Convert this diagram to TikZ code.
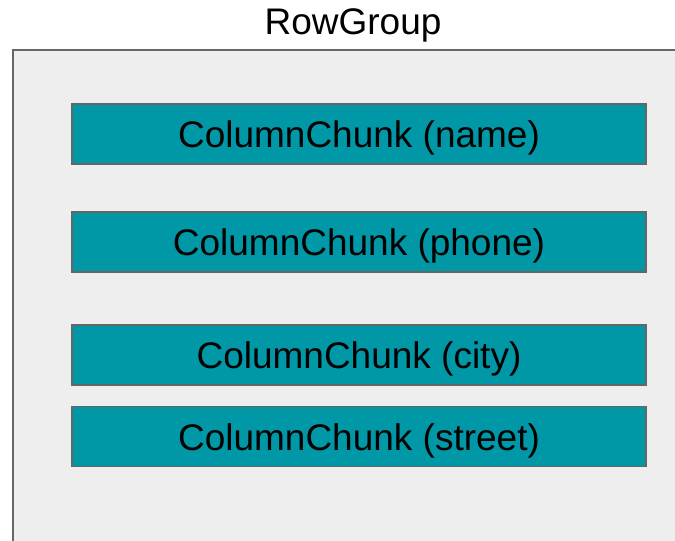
\documentclass[tikz,border=0pt]{standalone}
\usepackage{fontspec}
\setmainfont{Liberation Sans}
\definecolor{groupfill}{HTML}{EEEEEE}
\definecolor{edgegray}{HTML}{666666}
\definecolor{chunkteal}{HTML}{0097A7}
\begin{document}
\begin{tikzpicture}[x=1pt,y=-1pt,
  chunk/.style={draw=edgegray,line width=1.5pt,fill=chunkteal,minimum width=574pt,minimum height=60pt,inner sep=0pt,text height=27pt,text depth=0pt,font=\fontsize{37}{42}\selectfont,text=black},
  grouptitle/.style={font=\fontsize{37}{42}\selectfont,text=black,anchor=base,inner sep=0pt}]
\useasboundingbox (0,0) rectangle (675,541);
\clip (0,0) rectangle (675,541);
\fill[white] (0,0) rectangle (675,541);
\node[draw=edgegray,line width=1.5pt,fill=groupfill,minimum width=700pt,minimum height=560pt,anchor=north west,inner sep=0pt] (group) at (12,49) {};
\node[grouptitle] (title) at (353,34) {RowGroup};
\node[chunk] (name) at (359,134) {ColumnChunk (name)};
\node[chunk] (phone) at (359,242) {ColumnChunk (phone)};
\node[chunk] (city) at (359,355) {ColumnChunk (city)};
\node[chunk] (street) at (359,436.5) {ColumnChunk (street)};
\end{tikzpicture}
\end{document}
